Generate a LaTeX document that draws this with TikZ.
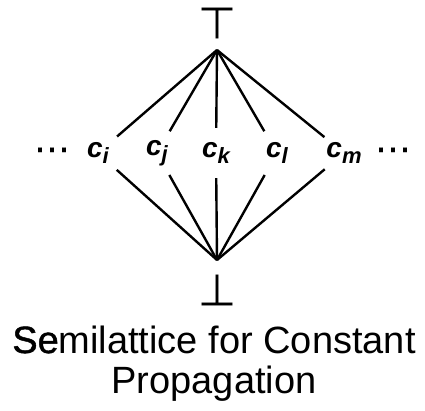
\documentclass[tikz,border=0pt]{standalone}
\usepackage{fontspec}
\setmainfont{Liberation Sans}
\newfontfamily\symfont[FakeBold=0.2]{DejaVu Sans}
\newcommand{\cname}[1]{c\raisebox{-6pt}{\fontsize{22}{22}\selectfont #1}}
\begin{document}
\begin{tikzpicture}[x=1pt, y=-1pt, line width=2.4pt,
	elem/.style={circle, inner sep=0pt, minimum size=48pt, font=\fontsize{28}{28}\selectfont\bfseries\itshape},
	sym/.style={font=\symfont\fontsize{40}{40}\selectfont, inner sep=0pt},
	caption/.style={anchor=base, font=\fontsize{38}{38}\selectfont}]
	\useasboundingbox (0,0) rectangle (425,410);
	\coordinate (top) at (217,50);
	\coordinate (bot) at (217,260);
	\node[sym] (topsym) at (217,23) {\scalebox{1.1}[1.1]{⊤}};
	\node[sym] (botsym) at (217,290) {\scalebox{1.1}[1.1]{⊥}};
	\node[elem] (ci) at (98,153) {\cname{i}};
	\node[elem] (cj) at (157,153) {\cname{j}};
	\node[elem] (ck) at (216,153) {\cname{k}};
	\node[elem] (cl) at (277,153) {\cname{l}};
	\node[elem] (cm) at (344,153) {\cname{m}};
	\node[sym, anchor=base, font=\symfont\fontsize{36}{36}\selectfont] (ldots) at (52,161) {⋯};
	\node[sym, anchor=base, font=\symfont\fontsize{36}{36}\selectfont] (rdots) at (393,161) {⋯};
	\draw (top) -- (ci) -- (bot);
	\draw (top) -- (cj) -- (bot);
	\draw (top) -- (ck) -- (bot);
	\draw (top) -- (cl) -- (bot);
	\draw (top) -- (cm) -- (bot);
	\node[caption] (cap1) at (214,353) {{\addfontfeature{FakeBold=1.2}Se}milattice for Constant};
	\node[caption] (cap2) at (214,393) {Propagation};
\end{tikzpicture}
\end{document}
